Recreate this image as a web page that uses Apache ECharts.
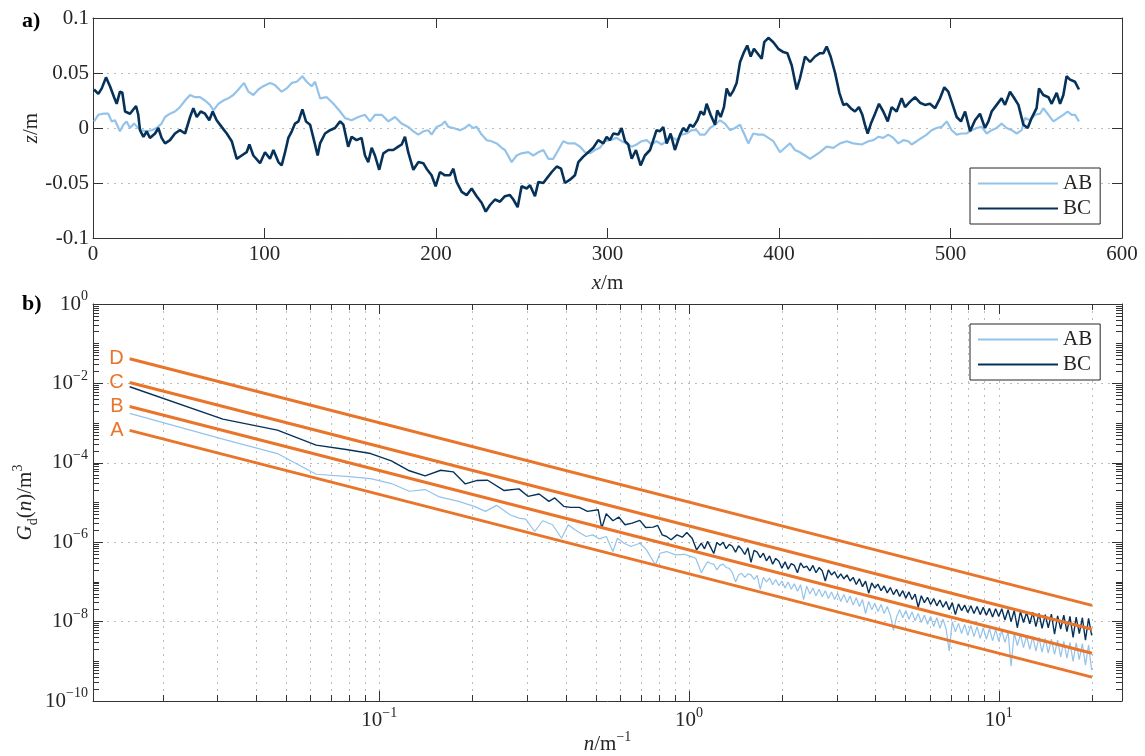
<!DOCTYPE html>
<html><head><meta charset="utf-8">
<script src="https://cdn.jsdelivr.net/npm/echarts@6/dist/echarts.min.js"></script>
<style>html,body{margin:0;padding:0;background:#fff}#c{width:1145px;height:756px}</style>
</head><body><div id="c"></div>
<script>
// ---------- panel a: road profiles z(x) [m] ----------
const profileAB = [[0.6,0.006],[3.1,0.012],[6.0,0.013],[8.9,0.013],[10.9,0.006],[12.8,0.007],[15.7,-0.003],[17.7,0.003],[19.6,0.006],[21.6,0],[23.9,0.004],[26.4,0],[28.4,-0.002],[31.3,-0.003],[34.2,-0.002],[37.1,0],[40.0,0.004],[42.0,0.010],[44.9,0.013],[47.8,0.015],[50.7,0.019],[53.7,0.025],[56.6,0.030],[59.5,0.028],[62.4,0.028],[65.3,0.025],[68.2,0.021],[70.2,0.016],[73.1,0.022],[76.0,0.025],[78.9,0.027],[81.8,0.030],[84.8,0.035],[88.1,0.041],[90.6,0.033],[93.5,0.030],[96.4,0.035],[99.3,0.038],[103.2,0.041],[106.1,0.039],[110.0,0.033],[112.9,0.036],[115.9,0.041],[118.8,0.042],[122.1,0.047],[124.6,0.042],[127.5,0.038],[129.5,0.042],[132.4,0.027],[136.3,0.028],[140.2,0.022],[144.1,0.015],[147.0,0.009],[150.8,0.007],[154.7,0.010],[158.6,0.012],[161.5,0.006],[164.4,0.012],[168.3,0.012],[172.2,0.006],[176.1,0.010],[180.0,0.004],[183.8,0.001],[186.8,-0.003],[189.7,-0.006],[192.6,-0.003],[195.5,-0.002],[197.4,-0.006],[200.4,0.001],[203.3,0.003],[205.2,0.006],[207.2,0.001],[210.1,0],[214.0,-0.002],[216.9,0],[219.2,0.003],[221.7,0],[223.7,0.001],[226.6,-0.006],[229.5,-0.011],[232.4,-0.012],[235.4,-0.014],[238.3,-0.018],[240.2,-0.020],[244.1,-0.031],[247.0,-0.025],[249.9,-0.023],[253.8,-0.022],[256.7,-0.025],[259.7,-0.022],[262.6,-0.020],[265.5,-0.028],[268.4,-0.028],[271.3,-0.020],[274.2,-0.012],[277.2,-0.014],[281.0,-0.014],[284.0,-0.017],[286.9,-0.022],[289.8,-0.023],[292.7,-0.020],[295.6,-0.018],[298.5,-0.012],[301.4,-0.011],[305.3,-0.009],[308.2,-0.012],[311.2,-0.014],[314.1,-0.017],[317.0,-0.015],[319.9,-0.012],[322.8,-0.011],[325.7,-0.015],[328.6,-0.012],[331.6,-0.015],[334.5,-0.012],[337.4,-0.008],[340.3,-0.011],[343.2,-0.006],[346.1,-0.005],[349.1,-0.002],[352.0,-0.002],[353.9,-0.006],[356.8,-0.006],[359.8,0],[362.7,0.003],[365.6,0.007],[368.5,0.004],[371.4,-0.002],[374.3,0],[377.3,0.003],[379.6,-0.005],[382.1,-0.014],[385.0,-0.005],[387.9,-0.006],[390.9,-0.006],[393.8,-0.009],[396.7,-0.012],[400.6,-0.022],[403.5,-0.018],[406.4,-0.014],[409.3,-0.020],[412.2,-0.022],[415.2,-0.025],[418.1,-0.028],[421.0,-0.025],[423.9,-0.022],[427.8,-0.017],[431.7,-0.018],[435.6,-0.014],[439.5,-0.012],[443.3,-0.014],[448.2,-0.015],[452.1,-0.012],[455.0,-0.011],[457.9,-0.008],[460.8,-0.009],[463.7,-0.006],[466.7,-0.009],[469.6,-0.014],[472.5,-0.011],[475.4,-0.012],[477.3,-0.015],[480.3,-0.012],[483.2,-0.009],[486.1,-0.006],[489.0,-0.002],[491.9,0],[494.8,0.001],[497.8,0.006],[500.7,-0.002],[503.6,-0.006],[506.5,-0.005],[509.4,-0.005],[512.3,-0.002],[515.3,0],[518.2,0.001],[521.1,-0.005],[524.0,-0.002],[526.9,0],[529.8,0.004],[532.7,0],[535.7,-0.002],[538.6,-0.005],[541.5,-0.002],[543.4,0.009],[546.4,0.007],[549.3,0.012],[552.2,0.013],[554.1,0.018],[557.1,0.012],[560.0,0.006],[562.9,0.009],[565.8,0.012],[568.3,0.015],[570.7,0.012],[572.6,0.012],[574.9,0.006]];

const profileBC = [[0.6,0.035],[3.1,0.031],[5.1,0.036],[7.6,0.046],[9.9,0.038],[12.3,0.028],[13.8,0.022],[15.7,0.033],[17.1,0.032],[18.7,0.015],[21.6,0.013],[25.1,0.020],[26.4,0.012],[27.4,-0.002],[29.4,-0.008],[31.3,-0.003],[33.2,-0.009],[36.2,-0.005],[38.1,0],[40.0,-0.009],[42.0,-0.014],[44.9,-0.011],[47.8,-0.005],[50.7,-0.002],[53.7,-0.005],[56.6,0.010],[58.5,0.018],[60.5,0.010],[62.8,0.015],[65.3,0.013],[67.8,0.007],[69.8,0.015],[72.1,0.007],[75.0,0.001],[78.0,-0.005],[80.9,-0.012],[83.8,-0.028],[86.7,-0.025],[89.6,-0.022],[91.2,-0.015],[93.5,-0.025],[97.4,-0.032],[100.3,-0.022],[103.2,-0.028],[105.2,-0.020],[108.1,-0.031],[110.0,-0.034],[112.0,-0.022],[113.9,-0.009],[115.9,-0.003],[117.8,0.004],[119.8,0.006],[122.1,0.017],[124.2,0.006],[126.6,0.003],[128.5,-0.009],[131.0,-0.025],[132.4,-0.014],[135.3,-0.005],[138.2,-0.002],[141.1,0],[144.1,0.006],[146.0,0.003],[148.8,-0.017],[150.8,-0.008],[153.7,-0.011],[156.6,-0.009],[158.6,-0.025],[160.5,-0.031],[162.5,-0.018],[164.4,-0.025],[166.9,-0.038],[169.3,-0.023],[172.2,-0.020],[175.1,-0.020],[178.0,-0.017],[180.0,-0.015],[181.9,-0.008],[183.8,-0.022],[186.8,-0.038],[189.7,-0.031],[192.6,-0.032],[194.5,-0.037],[197.4,-0.043],[199.8,-0.053],[202.3,-0.040],[205.2,-0.043],[208.1,-0.043],[210.1,-0.037],[212.0,-0.049],[215.0,-0.058],[217.9,-0.061],[220.8,-0.055],[223.7,-0.062],[226.6,-0.068],[229.0,-0.076],[231.5,-0.070],[234.4,-0.065],[237.3,-0.067],[240.2,-0.062],[243.1,-0.061],[245.1,-0.065],[247.6,-0.072],[249.9,-0.053],[252.9,-0.055],[254.8,-0.052],[257.7,-0.062],[259.7,-0.049],[262.6,-0.050],[264.5,-0.046],[267.5,-0.040],[270.4,-0.035],[272.9,-0.037],[275.2,-0.050],[278.1,-0.047],[281.0,-0.043],[283.0,-0.031],[285.9,-0.026],[288.8,-0.022],[291.7,-0.018],[294.6,-0.011],[297.5,-0.014],[299.5,-0.008],[301.4,-0.011],[303.4,-0.005],[306.3,-0.006],[308.2,0],[310.2,-0.012],[312.1,-0.015],[314.1,-0.028],[316.6,-0.020],[319.3,-0.034],[321.8,-0.025],[324.8,-0.020],[326.7,-0.011],[328.6,-0.002],[330.6,-0.003],[332.5,0.001],[334.5,-0.014],[336.8,-0.005],[339.3,-0.020],[342.3,-0.006],[344.2,0],[346.1,-0.003],[348.1,0.003],[350.0,0.001],[352.4,0.007],[354.3,0.015],[356.3,0.012],[357.8,0.022],[360.1,0.012],[362.7,0.003],[364.0,0.016],[366.0,0.010],[367.9,0.019],[369.5,0.036],[371.4,0.029],[373.4,0.034],[375.3,0.041],[377.3,0.060],[379.6,0.069],[381.5,0.075],[383.5,0.065],[385.4,0.072],[387.4,0.068],[389.9,0.063],[391.4,0.078],[393.8,0.082],[396.7,0.078],[399.6,0.072],[402.5,0.069],[404.9,0.068],[407.4,0.057],[410.3,0.035],[412.2,0.045],[415.2,0.065],[418.1,0.060],[421.0,0.065],[423.9,0.068],[425.9,0.068],[427.8,0.074],[430.1,0.065],[432.7,0.050],[435.2,0.032],[437.5,0.021],[439.5,0.022],[441.8,0.018],[444.3,0.015],[446.6,0.019],[448.6,0.012],[450.1,0.003],[451.7,-0.005],[453.6,0.004],[456.0,0.013],[458.3,0.022],[460.8,0.015],[463.4,0.006],[465.7,0.019],[468.6,0.015],[471.5,0.027],[473.5,0.019],[476.4,0.024],[479.3,0.028],[482.2,0.023],[485.1,0.021],[488.0,0.022],[491.0,0.018],[493.9,0.027],[496.4,0.037],[498.7,0.033],[501.1,0.022],[503.6,0.010],[506.1,0.006],[508.5,0.015],[511.4,-0.003],[514.3,0.007],[517.2,0.013],[520.1,0],[522.1,0.006],[524.0,0.015],[526.9,0.021],[529.8,0.027],[531.8,0.021],[534.7,0.033],[537.2,0.027],[539.6,0.021],[542.5,0.003],[545.0,0],[547.3,0.009],[550.2,0.018],[551.6,0.036],[554.1,0.030],[557.1,0.028],[559.0,0.022],[561.9,0.032],[563.9,0.022],[565.8,0.030],[567.7,0.047],[569.7,0.044],[572.6,0.042],[574.9,0.035]];

// ---------- panel b: PSD Gd(n) [m^3] vs n [1/m] ----------
const spectrumABLow = [[0.01563,1.75e-3],[0.03125,3.94e-4],[0.04688,1.71e-4],[0.0625,5.15e-5],[0.07813,4.57e-5],[0.09375,4.01e-5],[0.1094,3.0e-5],[0.125,1.92e-5],[0.1406,2.12e-5],[0.1563,1.38e-5],[0.1803,1.07e-5],[0.2025,8.0e-6],[0.2201,5.97e-6],[0.2391,8.47e-6],[0.2642,4.92e-6],[0.2824,4.05e-6],[0.2970,3.82e-6],[0.3173,1.86e-6],[0.3369,3.47e-6],[0.3625,2.75e-6],[0.3876,1.26e-6],[0.4073,2.75e-6],[0.4281,2.05e-6],[0.4652,1.39e-6],[0.4891,1.53e-6],[0.5140,1.21e-6],[0.5403,1.39e-6],[0.5680,5.81e-7],[0.5873,1.26e-6],[0.6172,9.43e-7],[0.6489,7.77e-7],[0.6935,9.43e-7],[0.7291,6.4e-7],[0.7791,2.67e-7],[0.8056,5.27e-7],[0.8467,5.81e-7],[0.9050,4.78e-7],[0.9672,4.96e-7],[1.0167,4.34e-7],[1.0512,3.93e-7]];
const spectrumABHigh = [[1.096,1.7e-7],[1.122,2.4e-7],[1.148,3.2e-7],[1.175,2.9e-7],[1.202,2.8e-7],[1.230,2.0e-7],[1.259,2.6e-7],[1.288,2.8e-7],[1.318,2.3e-7],[1.349,2.2e-7],[1.380,1.7e-7],[1.413,1.0e-7],[1.445,1.5e-7],[1.479,1.65e-7],[1.514,1.3e-7],[1.549,1.6e-7],[1.585,1.5e-7],[1.622,1.15e-7],[1.660,1.45e-7],[1.698,6.5e-8],[1.738,1.3e-7],[1.778,1.0e-7],[1.820,1.25e-7],[1.862,8.5e-8],[1.905,1.15e-7],[1.950,8.0e-8],[1.995,1.05e-7],[2.042,7.0e-8],[2.089,1.0e-7],[2.138,6.5e-8],[2.188,9.0e-8],[2.239,5.8e-8],[2.291,8.5e-8],[2.344,3.6e-8],[2.399,7.8e-8],[2.455,5.0e-8],[2.512,7.0e-8],[2.570,4.5e-8],[2.630,6.5e-8],[2.692,4.2e-8],[2.754,6.0e-8],[2.818,3.8e-8],[2.884,5.6e-8],[2.951,3.6e-8],[3.020,5.2e-8],[3.090,3.2e-8],[3.162,4.8e-8],[3.236,3.0e-8],[3.311,4.4e-8],[3.388,2.6e-8],[3.467,4.0e-8],[3.548,2.4e-8],[3.631,3.6e-8],[3.715,1.6e-8],[3.802,3.2e-8],[3.890,2.0e-8],[3.981,2.9e-8],[4.074,1.8e-8],[4.169,2.7e-8],[4.266,1.6e-8],[4.365,2.4e-8],[4.467,1.45e-8],[4.571,6.0e-9],[4.677,1.3e-8],[4.786,2.0e-8],[4.898,1.25e-8],[5.012,1.9e-8],[5.129,1.15e-8],[5.248,1.75e-8],[5.370,1.05e-8],[5.495,1.6e-8],[5.623,9.5e-9],[5.754,1.45e-8],[5.888,8.5e-9],[6.026,1.35e-8],[6.166,7.5e-9],[6.310,1.25e-8],[6.457,6.8e-9],[6.607,1.15e-8],[6.761,6.5e-9],[6.918,1.8e-9],[7.079,1.0e-8],[7.244,5.5e-9],[7.413,9.0e-9],[7.586,5.0e-9],[7.762,8.5e-9],[7.943,4.5e-9],[8.128,8.0e-9],[8.318,4.2e-9],[8.511,7.5e-9],[8.710,3.8e-9],[8.913,7.0e-9],[9.120,3.6e-9],[9.333,6.6e-9],[9.550,3.3e-9],[9.772,6.3e-9],[10.00,3.2e-9],[10.23,6.0e-9],[10.47,3.0e-9],[10.72,5.6e-9],[10.96,7.5e-10],[11.22,5.2e-9],[11.48,2.5e-9],[11.75,4.8e-9],[12.02,2.2e-9],[12.30,4.4e-9],[12.59,2.0e-9],[12.88,4.2e-9],[13.18,1.8e-9],[13.49,4.0e-9],[13.80,1.7e-9],[14.13,3.8e-9],[14.45,1.6e-9],[14.79,3.6e-9],[15.14,1.5e-9],[15.49,3.4e-9],[15.85,1.3e-9],[16.22,3.2e-9],[16.60,1.2e-9],[16.98,3.0e-9],[17.38,1.0e-9],[17.78,2.9e-9],[18.20,1.1e-9],[18.62,2.8e-9],[19.05,8.0e-10],[19.50,2.6e-9],[19.95,6.0e-10]];

const spectrumBCLow = [[0.01563,8.22e-3],[0.03125,1.26e-3],[0.04688,6.64e-4],[0.0625,2.78e-4],[0.07813,2.16e-4],[0.09375,1.71e-4],[0.1094,1.12e-4],[0.125,6.3e-5],[0.1406,4.68e-5],[0.1578,6.5e-5],[0.1732,5.91e-5],[0.1895,2.94e-5],[0.2059,3.57e-5],[0.2237,3.64e-5],[0.2530,2.0e-5],[0.2824,2.2e-5],[0.3019,1.43e-5],[0.3281,1.64e-5],[0.3529,1.07e-5],[0.3685,1.3e-5],[0.3938,8.0e-6],[0.4141,7.55e-6],[0.4426,7.55e-6],[0.4699,5.97e-6],[0.5089,6.59e-6],[0.5226,2.26e-6],[0.5403,5.21e-6],[0.5680,3.47e-6],[0.5930,4.3e-6],[0.6213,2.75e-6],[0.6555,3.03e-6],[0.6935,3.54e-6],[0.7243,2.35e-6],[0.7663,2.4e-6],[0.7923,2.64e-6],[0.8190,1.53e-6],[0.8467,1.39e-6],[0.8754,1.15e-6],[0.9140,1.53e-6],[0.9513,1.34e-6],[0.9835,1.76e-6],[1.0235,1.26e-6],[1.0583,6.4e-7]];
const spectrumBCHigh = [[1.096,9.5e-7],[1.122,6.8e-7],[1.148,1.05e-6],[1.175,7.4e-7],[1.202,5.2e-7],[1.230,9.8e-7],[1.259,8.4e-7],[1.288,1.0e-6],[1.318,6.9e-7],[1.349,8.8e-7],[1.380,7.9e-7],[1.413,5.6e-7],[1.445,8.1e-7],[1.479,6.6e-7],[1.514,4.9e-7],[1.549,7.2e-7],[1.585,3.1e-7],[1.622,6.2e-7],[1.660,5.6e-7],[1.698,4.1e-7],[1.738,5.3e-7],[1.778,3.4e-7],[1.820,4.5e-7],[1.862,2.8e-7],[1.905,3.9e-7],[1.950,3.3e-7],[1.995,2.2e-7],[2.042,3.2e-7],[2.089,2.1e-7],[2.138,2.9e-7],[2.188,2.6e-7],[2.239,1.7e-7],[2.291,3.0e-7],[2.344,2.3e-7],[2.399,2.5e-7],[2.455,1.9e-7],[2.512,2.6e-7],[2.570,1.7e-7],[2.630,2.3e-7],[2.692,1.9e-7],[2.754,1.05e-7],[2.818,2.0e-7],[2.884,1.5e-7],[2.951,1.8e-7],[3.020,1.25e-7],[3.090,1.6e-7],[3.162,1.2e-7],[3.236,1.5e-7],[3.311,1.05e-7],[3.388,1.3e-7],[3.467,8.6e-8],[3.548,1.2e-7],[3.631,7.6e-8],[3.715,1.05e-7],[3.802,5.2e-8],[3.890,9.4e-8],[3.981,7.0e-8],[4.074,8.8e-8],[4.169,6.0e-8],[4.266,7.9e-8],[4.365,5.3e-8],[4.467,7.2e-8],[4.571,4.8e-8],[4.677,6.5e-8],[4.786,4.3e-8],[4.898,6.0e-8],[5.012,3.9e-8],[5.129,5.6e-8],[5.248,3.6e-8],[5.370,4.9e-8],[5.495,2.3e-8],[5.623,4.5e-8],[5.754,3.0e-8],[5.888,4.1e-8],[6.026,2.7e-8],[6.166,3.8e-8],[6.310,2.5e-8],[6.457,3.5e-8],[6.607,2.3e-8],[6.761,3.2e-8],[6.918,2.0e-8],[7.079,3.0e-8],[7.244,1.5e-8],[7.413,2.8e-8],[7.586,1.9e-8],[7.762,2.6e-8],[7.943,1.7e-8],[8.128,2.5e-8],[8.318,1.6e-8],[8.511,2.4e-8],[8.710,1.5e-8],[8.913,2.3e-8],[9.120,1.45e-8],[9.333,2.15e-8],[9.550,1.3e-8],[9.772,2.1e-8],[10.00,1.35e-8],[10.23,2.1e-8],[10.47,1.1e-8],[10.72,2.0e-8],[10.96,1.0e-8],[11.22,1.9e-8],[11.48,7.0e-9],[11.75,1.8e-8],[12.02,9.5e-9],[12.30,1.7e-8],[12.59,8.8e-9],[12.88,1.7e-8],[13.18,7.5e-9],[13.49,1.6e-8],[13.80,6.8e-9],[14.13,1.5e-8],[14.45,7.0e-9],[14.79,1.55e-8],[15.14,4.8e-9],[15.49,1.4e-8],[15.85,6.5e-9],[16.22,1.45e-8],[16.60,5.6e-9],[16.98,1.35e-8],[17.38,4.0e-9],[17.78,1.3e-8],[18.20,5.0e-9],[18.62,1.25e-8],[19.05,3.4e-9],[19.50,1.2e-8],[19.95,4.5e-9]];

// road class boundary lines (ISO 8608), endpoints
const classNames = ['A', 'B', 'C', 'D'];
const classN = [0.015625, 20];
const classG = [[6.55e-4, 4.0e-10], [2.62e-3, 1.6e-9], [1.05e-2, 6.4e-9], [4.19e-2, 2.56e-8]];

// axis ticks
const xMajorB = [0.1, 1, 10];
const xMinorB = [0.02,0.03,0.04,0.05,0.06,0.07,0.08,0.09,0.1,0.2,0.3,0.4,0.5,0.6,0.7,0.8,0.9,1,2,3,4,5,6,7,8,9,10,20];
const yMajorB = [1e-10, 1e-8, 1e-6, 1e-4, 1e-2, 1];
const yMinorMant = [1,2,3,4,5,6,7,8,9];
const yMinorExp = [-10,-9,-8,-7,-6,-5,-4,-3,-2,-1];

// ---------- styling ----------
const SERIF = '"Liberation Serif","DejaVu Serif",serif';
const SANS = '"Liberation Sans","DejaVu Sans",sans-serif';
const TXT = '#262626';
const AX = '#333333';
const LIGHT = '#94c3ea';
const DARK = '#06325a';
const ORANGE = '#e8752a';
const GRIDC = '#bcbcbc';
const FS = 21;

const yMinorB = [];
yMinorExp.forEach(e => yMinorMant.forEach(m => yMinorB.push(+(m + 'e' + e))));
yMinorB.push(1);

const supRich = {
  b: {fontFamily: SERIF, fontSize: FS, color: TXT, lineHeight: 29, verticalAlign: 'middle'},
  s: {fontFamily: SERIF, fontSize: 14, color: TXT, lineHeight: 15, verticalAlign: 'top'}
};
function powLabel(v) {
  const e = Math.round(Math.log10(v));
  return '{b|10}{s|' + (e < 0 ? '\u2212' + (-e) : e) + '}';
}
const dotted = {show: true, lineStyle: {color: GRIDC, type: [2, 5], width: 1}};
const noLine = {show: false};

const grids = [
  {left: 93, top: 18, width: 1029, height: 220, containLabel: false, outerBoundsMode: 'none'},
  {left: 93, top: 304, width: 1029, height: 397, containLabel: false, outerBoundsMode: 'none'}
];

const nameRich = {
  i: {fontFamily: SERIF, fontSize: FS, fontStyle: 'italic', color: TXT, lineHeight: 29, verticalAlign: 'middle'},
  r: {fontFamily: SERIF, fontSize: FS, color: TXT, lineHeight: 29, verticalAlign: 'middle'},
  s: {fontFamily: SERIF, fontSize: 14, color: TXT, lineHeight: 15, verticalAlign: 'top'},
  d: {fontFamily: SERIF, fontSize: 14, color: TXT, lineHeight: 15, verticalAlign: 'bottom'}
};

const xAxes = [
  { gridIndex: 0, type: 'value', position: 'bottom', min: 0, max: 600, interval: 100,
    axisLine: {show: true, onZero: false, lineStyle: {color: AX, width: 1}},
    axisTick: {show: true, inside: true, length: 10, lineStyle: {color: AX}},
    axisLabel: {show: true, margin: 6, fontFamily: SERIF, fontSize: FS, color: TXT},
    splitLine: noLine,
    name: '{i|x}{r|/m}', nameLocation: 'middle', nameGap: 31, nameMoveOverlap: false, nameTextStyle: {rich: nameRich} },
  { gridIndex: 0, type: 'value', position: 'top', min: 0, max: 600, interval: 100,
    axisLine: {show: true, onZero: false, lineStyle: {color: AX, width: 1}},
    axisTick: {show: true, inside: true, length: 10, lineStyle: {color: AX}},
    axisLabel: {show: false}, splitLine: noLine },
  { gridIndex: 1, type: 'log', position: 'bottom', min: 0.0119, max: 25,
    axisLine: {show: true, onZero: false, lineStyle: {color: AX, width: 1}},
    axisTick: {show: true, inside: true, length: 10, customValues: xMajorB, lineStyle: {color: AX}},
    axisLabel: {show: true, customValues: xMajorB, margin: 5, formatter: powLabel, rich: supRich},
    splitLine: noLine,
    name: '{i|n}{r|/m}{s|\u22121}', nameLocation: 'middle', nameGap: 29, nameMoveOverlap: false, nameTextStyle: {rich: nameRich} },
  { gridIndex: 1, type: 'log', position: 'bottom', min: 0.0119, max: 25,
    axisLine: {show: false, onZero: false},
    axisTick: {show: true, inside: true, length: 6, customValues: xMinorB, lineStyle: {color: AX}},
    axisLabel: {show: false}, splitLine: dotted },
  { gridIndex: 1, type: 'log', position: 'top', min: 0.0119, max: 25,
    axisLine: {show: true, onZero: false, lineStyle: {color: AX, width: 1}},
    axisTick: {show: true, inside: true, length: 10, customValues: xMajorB, lineStyle: {color: AX}},
    axisLabel: {show: false}, splitLine: noLine },
  { gridIndex: 1, type: 'log', position: 'top', min: 0.0119, max: 25,
    axisLine: {show: false, onZero: false},
    axisTick: {show: true, inside: true, length: 6, customValues: xMinorB, lineStyle: {color: AX}},
    axisLabel: {show: false}, splitLine: noLine }
];

const yAxes = [
  { gridIndex: 0, type: 'value', position: 'left', min: -0.1, max: 0.1, interval: 0.05,
    axisLine: {show: true, onZero: false, lineStyle: {color: AX, width: 1}},
    axisTick: {show: true, inside: true, length: 10, lineStyle: {color: AX}},
    axisLabel: {show: true, margin: 4, fontFamily: SERIF, fontSize: FS, color: TXT,
      formatter: v => (Math.abs(v) < 1e-9 ? '0' : String(parseFloat(v.toFixed(2))))},
    splitLine: dotted,
    name: '{i|z}{r|/m}', nameLocation: 'middle', nameGap: 47, nameMoveOverlap: false, nameTextStyle: {rich: nameRich} },
  { gridIndex: 0, type: 'value', position: 'right', min: -0.1, max: 0.1, interval: 0.05,
    axisLine: {show: true, onZero: false, lineStyle: {color: AX, width: 1}},
    axisTick: {show: true, inside: true, length: 10, lineStyle: {color: AX}},
    axisLabel: {show: false}, splitLine: noLine },
  { gridIndex: 1, type: 'log', position: 'left', min: 1e-10, max: 1,
    axisLine: {show: true, onZero: false, lineStyle: {color: AX, width: 1}},
    axisTick: {show: true, inside: true, length: 10, customValues: yMajorB, lineStyle: {color: AX}},
    axisLabel: {show: true, customValues: yMajorB, margin: 5, formatter: powLabel, rich: supRich},
    splitLine: dotted,
    name: '{i|G}{d|d}{r|(}{i|n}{r|)/m}{s|3}', nameLocation: 'middle', nameGap: 53, nameMoveOverlap: false, nameTextStyle: {rich: nameRich} },
  { gridIndex: 1, type: 'log', position: 'left', min: 1e-10, max: 1,
    axisLine: {show: false, onZero: false},
    axisTick: {show: true, inside: true, length: 6, customValues: yMinorB, lineStyle: {color: AX}},
    axisLabel: {show: false}, splitLine: noLine },
  { gridIndex: 1, type: 'log', position: 'right', min: 1e-10, max: 1,
    axisLine: {show: true, onZero: false, lineStyle: {color: AX, width: 1}},
    axisTick: {show: true, inside: true, length: 10, customValues: yMajorB, lineStyle: {color: AX}},
    axisLabel: {show: false}, splitLine: noLine },
  { gridIndex: 1, type: 'log', position: 'right', min: 1e-10, max: 1,
    axisLine: {show: false, onZero: false},
    axisTick: {show: true, inside: true, length: 6, customValues: yMinorB, lineStyle: {color: AX}},
    axisLabel: {show: false}, splitLine: noLine }
];

function lineSeries(name, data, xi, yi, color, width, z) {
  return {name, type: 'line', data, xAxisIndex: xi, yAxisIndex: yi, showSymbol: false, symbol: 'none',
    lineStyle: {color, width}, itemStyle: {color}, z: z || 2, silent: true, animation: false};
}

const series = [
  lineSeries('AB', profileAB, 0, 0, LIGHT, 2.2),
  lineSeries('BC', profileBC, 0, 0, DARK, 2.6),
  lineSeries('AB', spectrumABLow.concat(spectrumABHigh), 2, 2, LIGHT, 1.2),
  lineSeries('BC', spectrumBCLow.concat(spectrumBCHigh), 2, 2, DARK, 1.4)
];
classNames.forEach((nm, i) => {
  const s = lineSeries(nm, [
    {value: [classN[0], classG[i][0]], label: {show: true, position: 'left', distance: 6, formatter: nm,
      fontFamily: SANS, fontSize: 20, color: ORANGE}},
    {value: [classN[1], classG[i][1]]}
  ], 2, 2, ORANGE, 3, 5);
  s.showSymbol = true;
  s.symbol = 'circle';
  s.symbolSize = 0.01;
  series.push(s);
});

const legendBase = {
  data: ['AB', 'BC'], orient: 'vertical', left: 970, icon: 'rect', itemWidth: 80, itemHeight: 2,
  itemGap: 4, padding: [5, 8, 5, 8], borderColor: '#262626', borderWidth: 1, backgroundColor: '#fff',
  selectedMode: false, textStyle: {fontFamily: SERIF, fontSize: FS, color: TXT}
};

const chart = echarts.init(document.getElementById('c'), null, {renderer: 'canvas'});
chart.setOption({
  animation: false,
  backgroundColor: '#fff',
  title: [
    {text: 'a)', left: 17, top: 5, textStyle: {fontFamily: SERIF, fontWeight: 'bold', fontSize: 22, color: '#000'}},
    {text: 'b)', left: 17, top: 288, textStyle: {fontFamily: SERIF, fontWeight: 'bold', fontSize: 22, color: '#000'}}
  ],
  grid: grids,
  xAxis: xAxes,
  yAxis: yAxes,
  legend: [Object.assign({}, legendBase, {top: 168}), Object.assign({}, legendBase, {top: 324})],
  series
});
</script></body></html>
